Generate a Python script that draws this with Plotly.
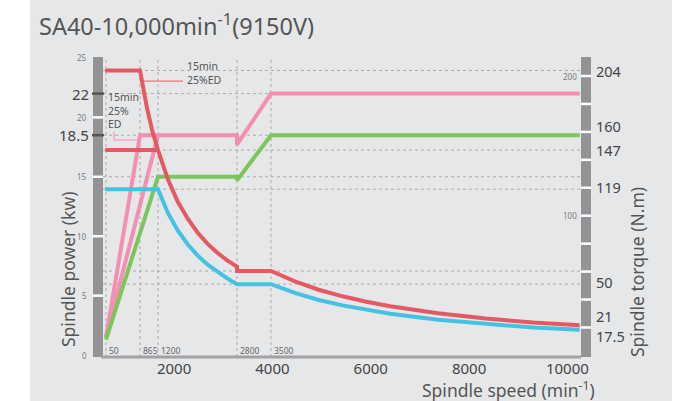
import plotly.graph_objects as go

# ---------------- data ----------------
title_text = "SA40-10,000min<sup>-1</sup>(9150V)"
speed_ticks = [2000, 4000, 6000, 8000, 10000]
break_labels = ["50", "865", "1200", "2800", "3500"]
break_pos = [616, 1308, 1674, 3280, 3972]          # where the break speeds are drawn on the speed axis

power_ticks = [0, 5, 10, 15, 20, 25]
power_white = [5, 10, 15, 20]
power_marks = [22, 18.5]
torque_white = [20, 40, 60, 80, 100, 120, 140, 160, 180, 200]
torque_small = [100, 200]
torque_marks = [204, 160, 147, 119, 50, 21, 17.5]
torque_mark_text = ["204", "160", "147", "119", "50", "21", "17.5"]
torque_mark_shift = [-1, 6, 0, 2, 4, 10, -5]

grid_power = [22, 18.5, 15]
grid_torque = [204, 147, 119, 60.4, 51]

pink_a_x = [616, 1308, 3280, 3280, 3972, 10250]
pink_a_kw = [1.5, 18.5, 18.5, 17.7, 22, 22]
pink_b_x = [616, 1674]
pink_b_kw = [1.5, 18.5]
green_x = [616, 1674, 3280, 3280, 3972, 10250]
green_kw = [1.3, 15, 15, 14.7, 18.5, 18.5]

red_x = [600, 1308, 1456, 1564, 1674, 1875, 2076, 2276, 2477, 2678, 2880, 3081, 3280, 3280,
         3972, 4458, 4942, 5428, 5912, 6398, 7368, 8339, 9309, 10250]
red_nm = [204, 204, 176, 160, 147, 126, 110, 98, 88, 80, 73.5, 68, 63.5, 60.4,
          60.4, 53, 47, 42.3, 38.4, 35.2, 30.2, 26.4, 23.5, 21.5]
red_cont_x = [600, 1674]
red_cont_nm = [147, 147]
cyan_x = [600, 1674, 1875, 2076, 2276, 2477, 2678, 2880, 3081, 3280,
          3972, 4458, 4942, 5428, 5912, 6398, 7368, 8339, 9309, 10250]
cyan_nm = [119, 119, 102, 89.5, 79.6, 71.6, 65.1, 59.7, 55.1, 51,
           51, 44.7, 39.7, 35.8, 32.5, 29.8, 25.6, 22.4, 19.9, 18.3]

pink_lead_x = [779, 779, 1267]
pink_lead_kw = [18.8, 18.1, 18.1]
red_lead_x = [1369, 2182]
red_lead_nm = [196.4, 196.4]

# ---------------- style ----------------
W, H = 684, 401
L, R, T, B = 103, 103, 57, 43
PW, PH = W - L - R, H - T - B
FONT = "Noto Sans"
PINK, GREEN, CYAN, RED = "#f48fb3", "#7cc55c", "#45c2e1", "#e55a62"
BAR = "#939395"
PANEL = "#e6e7e9"


def px(x):
    return (x - L) / PW


def py(y):
    return (H - B - y) / PH


fig = go.Figure()


def line(x, y, color, width, axis="y"):
    fig.add_trace(go.Scatter(x=x, y=y, mode="lines", yaxis=axis,
                             line=dict(color=color, width=width),
                             hoverinfo="skip", showlegend=False))


line(pink_lead_x, pink_lead_kw, "#f5a9c6", 1.5)
line(red_lead_x, red_lead_nm, "#e8747b", 1.2, "y2")
line(pink_b_x, pink_b_kw, PINK, 4)
line(pink_a_x, pink_a_kw, PINK, 4)
line(green_x, green_kw, GREEN, 4)
line(cyan_x, cyan_nm, CYAN, 4, "y2")
line(red_cont_x, red_cont_nm, RED, 4, "y2")
line(red_x, red_nm, RED, 4, "y2")

shapes = []
shapes.append(dict(type="rect", xref="paper", yref="paper", x0=px(30), x1=px(672),
                   y0=py(401), y1=py(0), fillcolor=PANEL, line_width=0, layer="below"))
for a, b in [(93, 103), (581, 591)]:
    shapes.append(dict(type="rect", xref="paper", yref="paper", x0=px(a), x1=px(b),
                       y0=py(357), y1=py(57), fillcolor=BAR, line_width=0, layer="below"))
shapes.append(dict(type="line", xref="paper", yref="paper", x0=px(101), x1=px(581),
                   y0=py(357), y1=py(357), line=dict(color="#a2a2a4", width=3)))
for v in grid_power:
    shapes.append(dict(type="line", xref="paper", yref="y", x0=0, x1=1, y0=v, y1=v,
                       line=dict(color="#ababab", width=1, dash="dot"), layer="below"))
for v in grid_torque:
    shapes.append(dict(type="line", xref="paper", yref="y2", x0=0, x1=1, y0=v, y1=v,
                       line=dict(color="#ababab", width=1, dash="dot"), layer="below"))
for v in break_pos:
    shapes.append(dict(type="line", xref="x", yref="paper", x0=v, x1=v, y0=py(357), y1=1,
                       line=dict(color="#ababab", width=1, dash="dot"), layer="below"))
for v in power_white:
    shapes.append(dict(type="line", xref="paper", yref="y", x0=px(92), x1=px(103), y0=v, y1=v,
                       line=dict(color="white", width=2.5)))
for v in power_marks:
    shapes.append(dict(type="line", xref="paper", yref="y", x0=px(92), x1=px(104), y0=v, y1=v,
                       line=dict(color="#555555", width=2.5)))
for v in torque_white:
    shapes.append(dict(type="line", xref="paper", yref="y2", x0=px(581), x1=px(591), y0=v, y1=v,
                       line=dict(color="white", width=2.5)))

ann = []


def text(t, x, y, xref="paper", yref="paper", xa="center", ya="middle", size=12,
         color="#555555", **kw):
    ann.append(dict(text=t, x=x, y=y, xref=xref, yref=yref, xanchor=xa, yanchor=ya,
                    showarrow=False, font=dict(size=size, color=color), **kw))


text(title_text, px(37), py(25), xa="left", size=23.5)
text("Spindle power (kw)", px(68), py(270), size=17.5, textangle=-90)
text("Spindle torque (N.m)", px(637), py(272), size=17.5, textangle=-90)
text("Spindle speed (min<sup>-1</sup>)", px(508), py(389.5), size=17.5)
for v in power_ticks:
    text(str(v), px(89), v, yref="y", xa="right", size=8, color="#7a7a7a")
for v in power_marks:
    text(str(v), px(91), v, yref="y", xa="right", size=15, color="#444444")
for v in torque_small:
    text(str(v), px(579), v, yref="y2", xa="right", size=8, color="#7a7a7a")
for v, t, s in zip(torque_marks, torque_mark_text, torque_mark_shift):
    text(t, px(594), v, yref="y2", xa="left", size=14.5, color="#444444", yshift=s)
for v, t in zip(break_pos, break_labels):
    text(t, v, py(350), xref="x", xa="left", size=8.5, color="#666666", xshift=1)
text("15min<br>25%<br>ED", px(106), py(111), xa="left", size=10.5, align="left")
text("15min<br>25%ED", px(185), py(73), xa="left", size=10.5, align="left")

fig.update_layout(
    width=W, height=H, margin=dict(l=L, r=R, t=T, b=B, pad=0),
    paper_bgcolor="white", plot_bgcolor="rgba(0,0,0,0)",
    font=dict(family=FONT, color="#444444"),
    showlegend=False, shapes=shapes, annotations=ann,
    xaxis=dict(range=[555, 10277], tickvals=speed_ticks, ticktext=[str(v) for v in speed_ticks],
               showgrid=False, zeroline=False, showline=False, ticks="",
               tickfont=dict(size=15, color="#444444")),
    yaxis=dict(range=[-0.25, 25.08], showgrid=False, zeroline=False, showline=False,
               showticklabels=False, ticks=""),
    yaxis2=dict(range=[-1.86, 213.6], overlaying="y", side="right", showgrid=False,
                zeroline=False, showline=False, showticklabels=False, ticks=""),
)

fig.write_html("out.html", config={"displayModeBar": False},
               post_script="document.body.style.margin='0px';document.body.style.overflow='hidden';")
